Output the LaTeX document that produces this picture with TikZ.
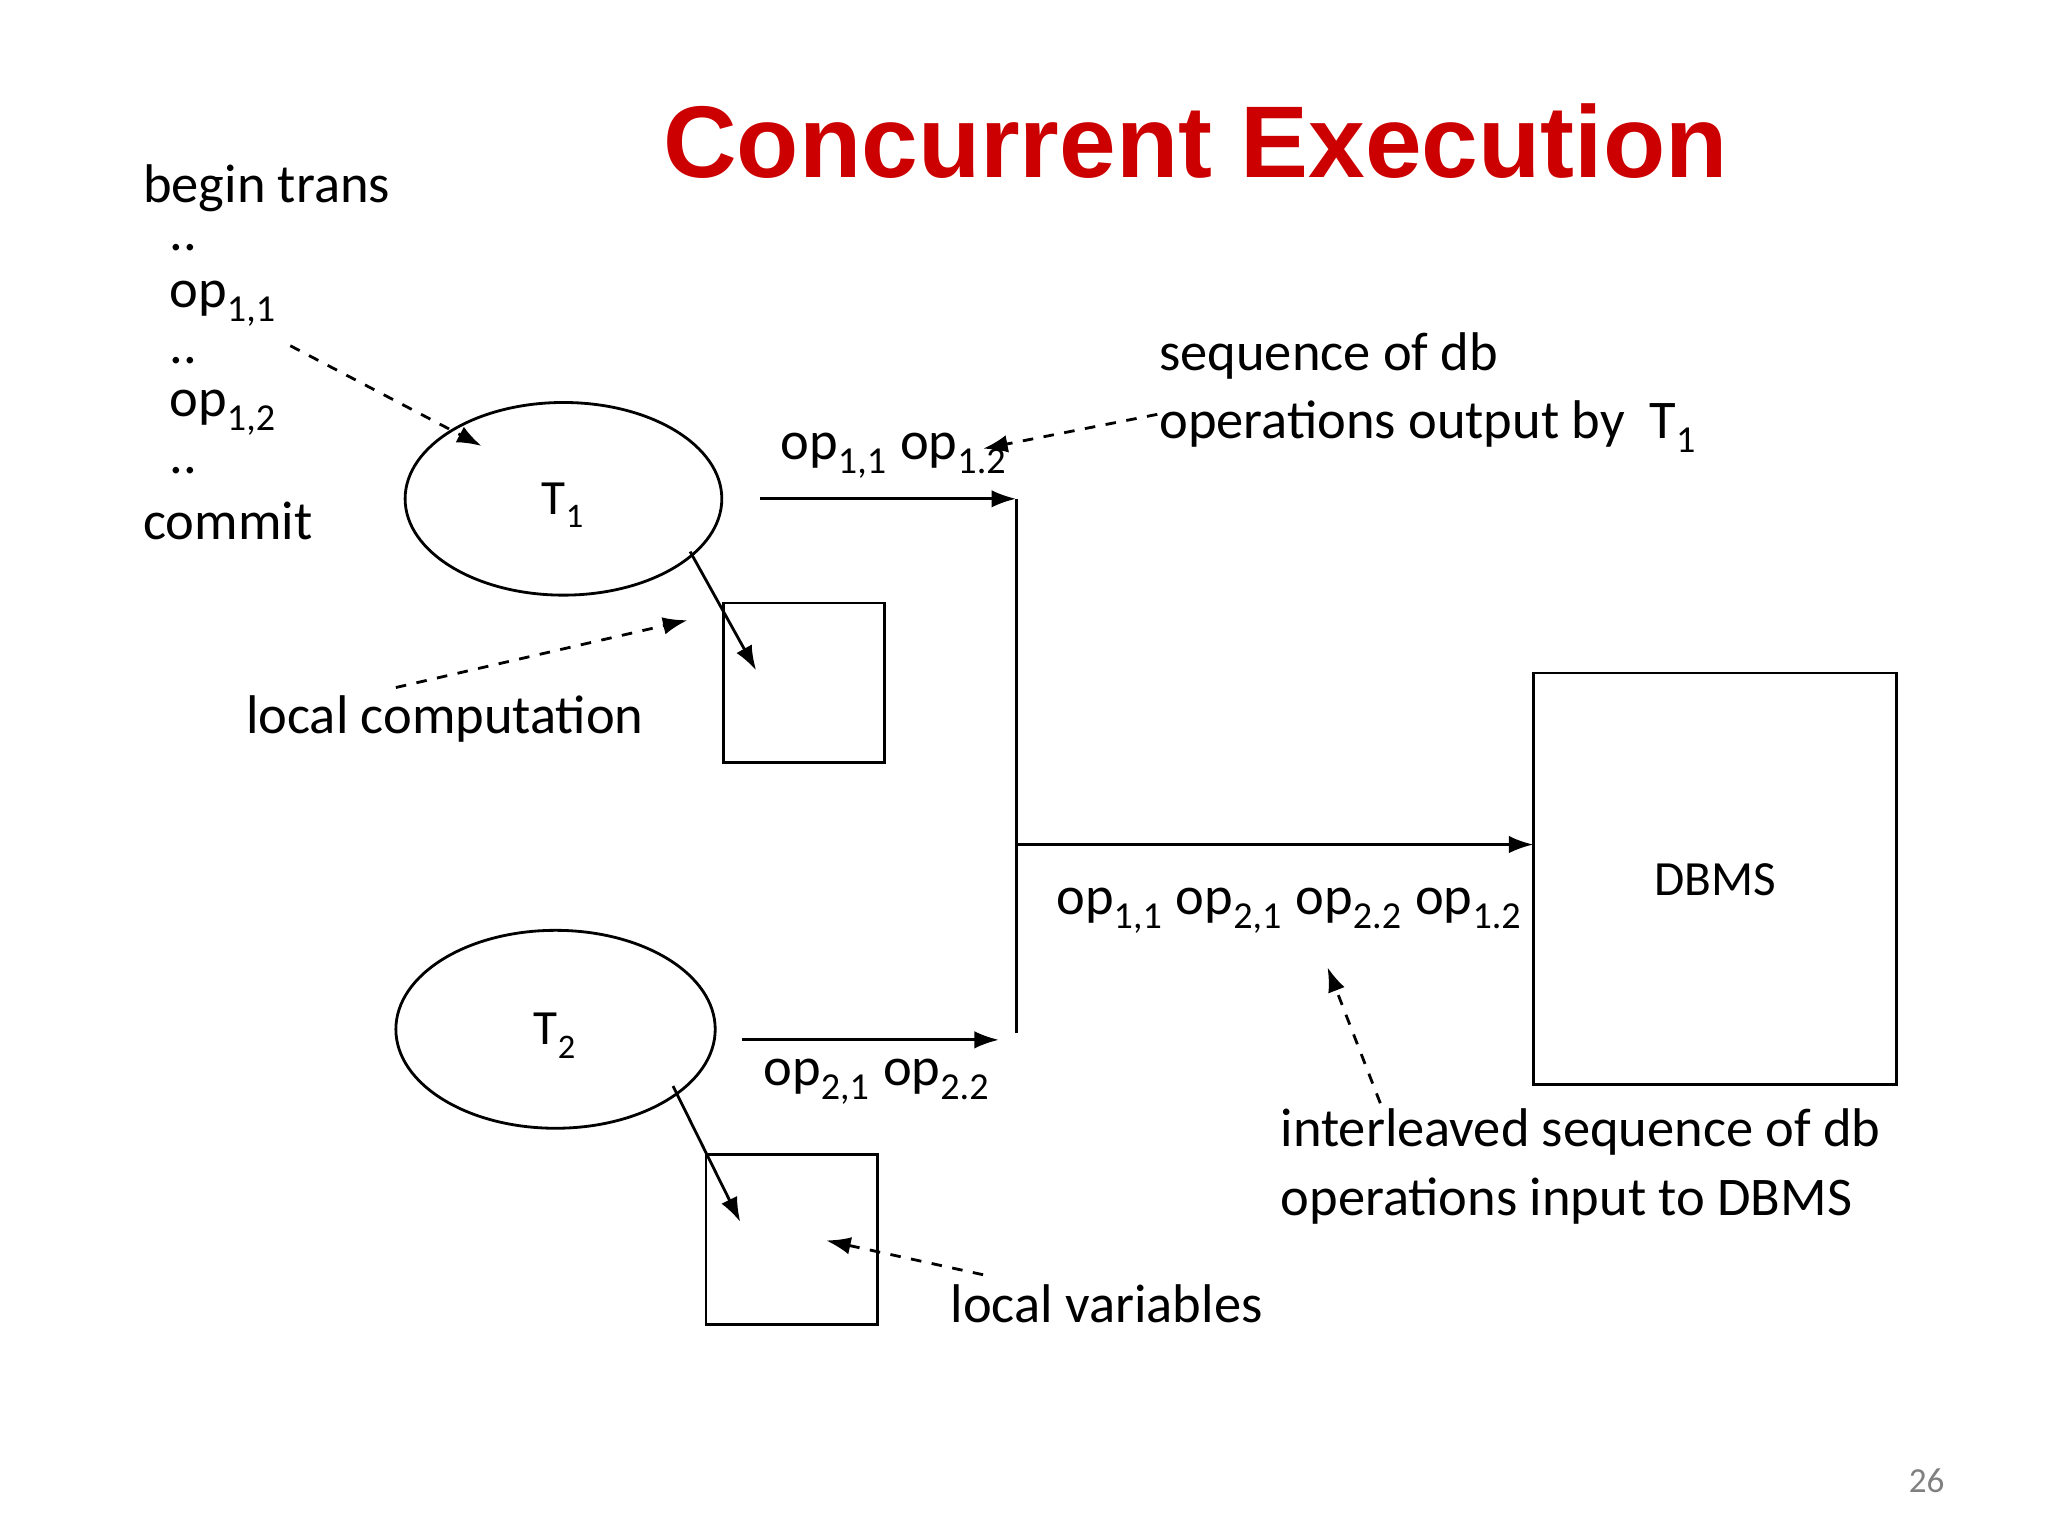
\documentclass[tikz,border=0pt]{standalone}
\usepackage{fontspec}
\setmainfont{Carlito}
\newfontfamily\titlefont{Liberation Sans}
\usetikzlibrary{arrows.meta,shapes.geometric}
\definecolor{titlered}{RGB}{204,0,0}
\newcommand{\sbs}[1]{\raisebox{-0.25ex}{\textsubscript{#1}}}
\begin{document}
\begin{tikzpicture}[x=0.013196cm,y=-0.013196cm,
  txt/.style={font=\fontsize{15.5}{17}\selectfont,inner sep=0pt,anchor=west},
  lab/.style={font=\fontsize{14}{16}\selectfont,inner sep=0pt},
  arr/.style={-{Latex[length=7pt,width=5pt]},thick},
  darr/.style={-{Latex[length=7pt,width=5pt]},thick,dashed}]
\useasboundingbox (0,0) rectangle (1552,1164);
\node[font=\titlefont\bfseries\fontsize{29}{34}\selectfont,text=titlered] (title) at (906,107) {Concurrent Execution};
\node[txt] (bt) at (108,143) {begin trans};
\node[txt] (d1) at (128,188) {..};
\node[txt] (o11) at (128,230) {op\sbs{1,1}};
\node[txt] (d2) at (128,273) {..};
\node[txt] (o12) at (128,313) {op\sbs{1,2}};
\node[txt] (d3) at (128,357) {..};
\node[txt] (cm) at (108,395) {commit};
\draw[thick] (427,378) ellipse [x radius=120, y radius=73];
\node[lab] (t1l) at (427,383) {T\sbs{1}};
\draw[thick] (421,780) ellipse [x radius=121, y radius=75];
\node[lab] (t2l) at (421,785) {T\sbs{2}};
\draw[thick] (548,457) rectangle (670,578);
\draw[thick] (535,875) rectangle (665,1004);
\draw[thick] (1162,510) rectangle (1437,822);
\node[lab] (dbms) at (1300,667) {DBMS};
\coordinate (vt) at (770,378); \coordinate (vb) at (770,783);
\draw[thick] (vt) -- (vb);
\coordinate (a1) at (576,378); \draw[arr] (a1) -- (vt);
\coordinate (a2) at (562,788); \coordinate (a2e) at (757,788); \draw[arr] (a2) -- (a2e);
\coordinate (a3) at (770,640); \coordinate (a3e) at (1162,640); \draw[arr] (a3) -- (a3e);
\coordinate (s1) at (523,418); \coordinate (s1e) at (573,508); \draw[arr] (s1) -- (s1e);
\coordinate (s2) at (510,823); \coordinate (s2e) at (561,926); \draw[arr] (s2) -- (s2e);
\coordinate (d1a) at (220,262); \coordinate (d1b) at (365,338); \draw[darr] (d1a) -- (d1b);
\coordinate (d2a) at (300,521); \coordinate (d2b) at (521,470); \draw[darr] (d2a) -- (d2b);
\coordinate (d3a) at (877,314); \coordinate (d3b) at (745,340); \draw[darr] (d3a) -- (d3b);
\coordinate (d4a) at (1046,836); \coordinate (d4b) at (1006,733); \draw[darr] (d4a) -- (d4b);
\coordinate (d5a) at (745,966); \coordinate (d5b) at (626,940); \draw[darr] (d5a) -- (d5b);
\node[txt] (seq1) at (878,270) {sequence of db};
\node[txt] (seq2) at (878,323) {operations output by\ \ T\sbs{1}};
\node[txt] (ops1) at (591,345) {op\sbs{1,1} op\sbs{1.2}};
\node[txt] (ops3) at (800,690) {op\sbs{1,1} op\sbs{2,1} op\sbs{2.2} op\sbs{1.2}};
\node[txt] (ops2) at (578,820) {op\sbs{2,1} op\sbs{2.2}};
\node[txt] (lc) at (186,545) {local computation};
\node[txt] (il1) at (970,858) {interleaved sequence of db};
\node[txt] (il2) at (970,910) {operations input to DBMS};
\node[txt] (lv) at (720,988) {local variables};
\node[font=\fontsize{10}{11}\selectfont,text=gray] (pg) at (1460,1122) {26};
\end{tikzpicture}
\end{document}
